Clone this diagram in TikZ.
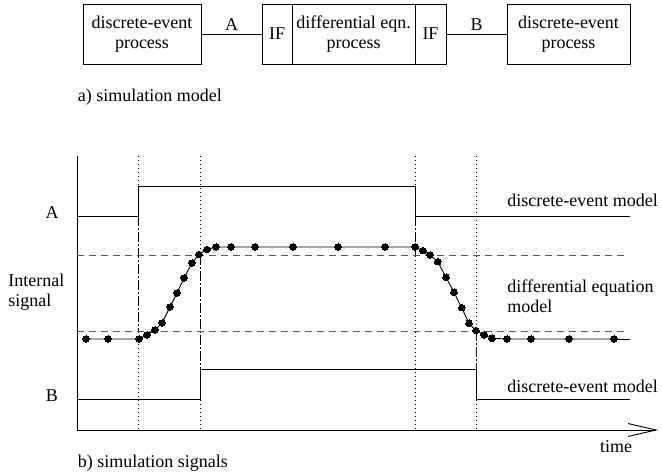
\documentclass[tikz,border=0pt]{standalone}
\usepackage{fontspec}
\setmainfont{Liberation Serif}
\usepackage{tikz}
\usetikzlibrary{arrows.meta}
\definecolor{levelgray}{RGB}{90, 90, 90}

\begin{document}
\begin{tikzpicture}[x=1pt, y=-1pt, line width=0.9pt,
    font=\fontsize{18}{20}\selectfont,
    box/.style={draw, inner sep=0pt, minimum height=60pt, align=center},
    guide/.style={line width=0.7pt, dash pattern=on 1pt off 3pt},
    iface/.style={line width=0.9pt, dash pattern=on 9pt off 3pt on 1pt off 3pt},
    level/.style={levelgray, dash pattern=on 7pt off 5pt}]
    \useasboundingbox (0,0) rectangle (662,473);

    % a) simulation model
    \node[box, minimum width=118pt] (de1) at (142,34) {discrete-event\\process};
    \node[box, minimum width=30.3pt] (ifA) at (277.15,34) {IF};
    \node[box, minimum width=122.7pt] (dq) at (353.65,34) {differential eqn.\\process};
    \node[box, minimum width=31pt] (ifB) at (430.5,34) {IF};
    \node[box, minimum width=123pt] (de2) at (568.5,34) {discrete-event\\process};
    \draw (de1) -- (ifA) node[midway, above] {A};
    \draw (ifB) -- (de2) node[midway, above] {B};
    \node[anchor=base west, inner sep=0pt] (capa) at (77.5,102) {a) simulation model};

    % Axes
    \coordinate (O) at (77.3,430);
    \coordinate (top) at (77.3,156);
    \coordinate (tend) at (658,430);
    \draw (top) -- (O);
    \draw[-{Straight Barb[length=28pt, width=13pt, line width=0.9pt]}] (O) -- (tend);
    \node[anchor=base, inner sep=0pt] (time) at (616,452) {time};

    % Switching instants
    \foreach \t in {138.7, 200.3, 415, 476.7}
        \draw[guide] (\t,156) -- (\t,430);
    \draw[iface] (138.7,216.7) -- (138.7,331);
    \draw[iface] (200.3,255) -- (200.3,369.3);
    \draw[iface] (415,216.7) -- (415,255);
    \draw[iface] (476.7,331) -- (476.7,369.3);

    % Model boundaries
    \draw[level] (77.3,255) -- (628,255);
    \draw[level] (77.3,331) -- (628,331);

    % Signal A
    \draw (77.3,216.7) -- (138.7,216.7) -- (138.7,186) -- (415,186)
        -- (415,216.7) -- (630,216.7);
    % Signal B
    \draw (77.3,399.3) -- (200.3,399.3) -- (200.3,369.3) -- (476.7,369.3)
        -- (476.7,399.3) -- (630,399.3);

    % Internal signal
    \draw plot[mark=*, mark size=3.3pt, mark options={line width=0pt}] coordinates {
        (86,339) (108,339) (139,339) (147,335) (155,330) (162,323) (170,307)
        (177,293) (184,278) (192,263) (199,254.5) (207,249.5) (216,247)
        (231,247) (255,247) (293,247) (338,247) (385,247) (415,247)
        (423,250.7) (430,255) (437.7,261.7) (446,277.3) (454,292.3)
        (461.7,307.7) (469,323.3) (476,330.5) (484,335) (492,338.3)
        (507,339) (531,339) (569,339) (614,339)};
    \draw (614,339) -- (630,339);

    % Labels
    \node[anchor=base, inner sep=0pt] (labA) at (52,219) {A};
    \node[anchor=base, inner sep=0pt] (labB) at (52,401) {B};
    \node[anchor=west, inner sep=0pt, align=left] (labI) at (8,292) {Internal\\signal};
    \node[anchor=base west, inner sep=0pt] (deA) at (507,207) {discrete-event model};
    \node[anchor=west, inner sep=0pt, align=left] (deq) at (507,296) {differential equation\\model};
    \node[anchor=base west, inner sep=0pt] (deB) at (507,392.5) {discrete-event model};
    \node[anchor=base west, inner sep=0pt] (capb) at (77.5,467) {b) simulation signals};
\end{tikzpicture}
\end{document}
